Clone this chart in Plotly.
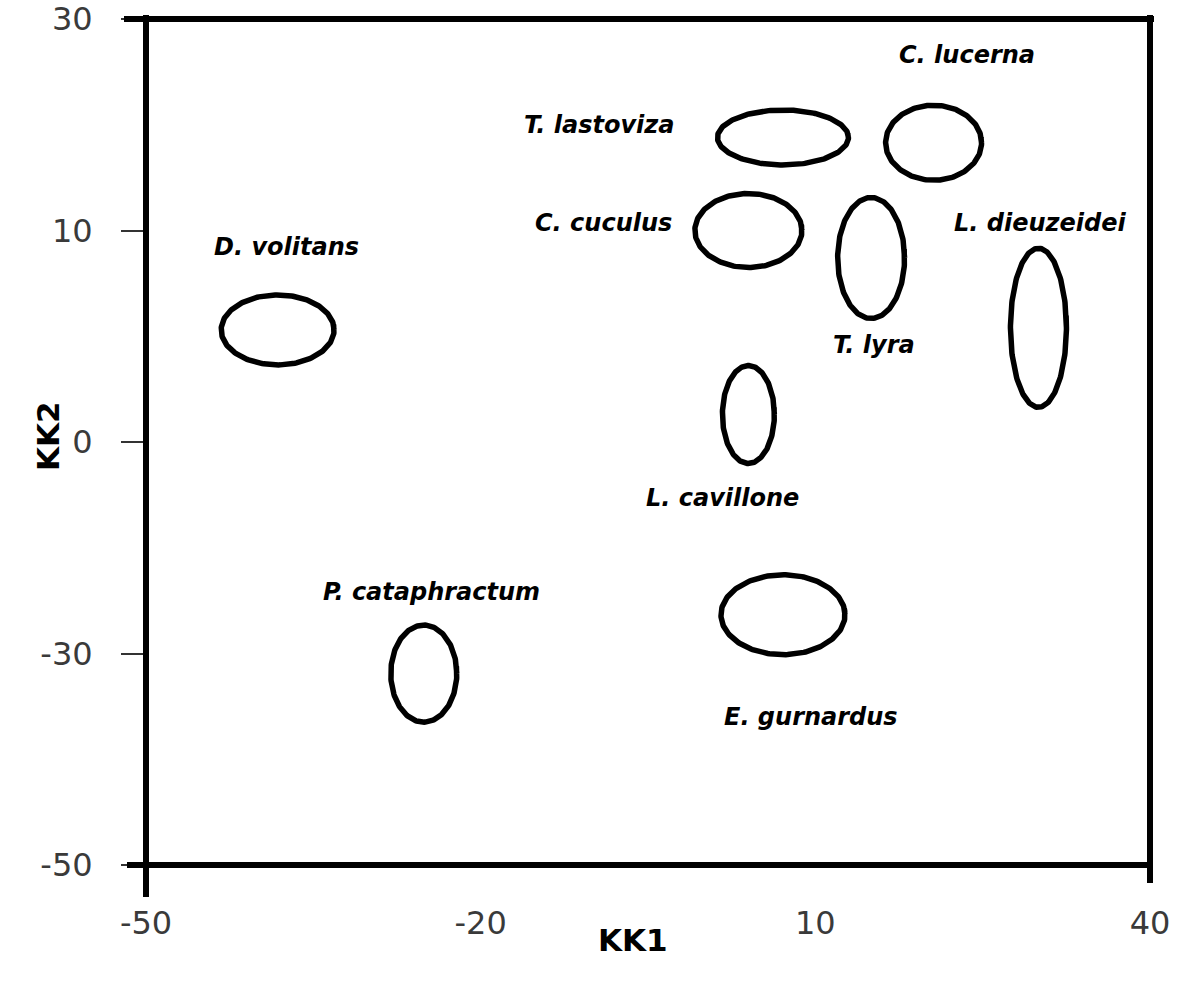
import numpy as np
import plotly.graph_objects as go

# Species group ellipses in canonical space (KK1 vs KK2)
species = ["D. volitans", "P. cataphractum", "T. lastoviza", "C. lucerna",
           "C. cuculus", "T. lyra", "L. dieuzeidei", "L. cavillone", "E. gurnardus"]
center_kk1 = [-38.2, -25.1, 7.1, 20.6, 4.0, 15.0, 30.0, 4.0, 7.1]
center_kk2 = [5.3, -31.9, 18.8, 18.3, 10.0, 8.7, 5.4, 1.3, -24.5]
# semi-axes: KK1 units horizontally, axis-position units vertically
half_width = [5.06, 2.96, 5.87, 4.30, 4.80, 3.00, 2.51, 2.33, 5.56]
half_height = [3.31, 4.59, 2.60, 3.55, 3.50, 5.72, 7.52, 4.63, 3.78]

# label anchor points for each species name
label_kk1 = [-37.4, -24.4, -9.4, 23.6, -9.0, 15.3, 30.1, 1.7, 9.6]
label_kk2 = [9.2, -21.3, 20.0, 26.6, 10.7, 4.6, 10.7, -7.95, -36.0]

# KK1 axis
x_ticks = [-50, -20, 10, 40]
# KK2 axis uses equally spaced tick positions for uneven tick values
y_tick_vals = [-50, -30, 0, 10, 30]
y_tick_pos = [-50, -30, -10, 10, 30]


def kk2_to_pos(v):
    return np.interp(v, y_tick_vals, y_tick_pos)


W, H = 1181, 981
L, R, T, B = 146, 31, 19, 116
pw, ph = W - L - R, H - T - B

fig = go.Figure()

# run slightly past a full turn so the outline closes without a seam
theta = np.linspace(0, 2 * np.pi + 0.15, 220)
for name, cx, cy, rx, ry in zip(species, center_kk1, center_kk2, half_width, half_height):
    cyp = kk2_to_pos(cy)
    fig.add_trace(go.Scatter(
        x=cx + rx * np.cos(theta),
        y=cyp + ry * np.sin(theta),
        mode="lines",
        line=dict(color="black", width=5.5),
        name=name,
        showlegend=False,
        hoverinfo="name",
    ))

for name, lx, ly in zip(species, label_kk1, label_kk2):
    fig.add_annotation(
        x=lx, y=float(kk2_to_pos(ly)), xref="x", yref="y",
        text=name, showarrow=False,
        font=dict(family="DejaVu Sans", size=24, color="black",
                  weight="bold", style="italic"),
    )


def px_x(p):
    return (p - L) / pw


def px_y(p):
    return (H - B - p) / ph


# frame lines (with extensions acting as end ticks)
frame = [
    (px_x(124), 1.0, px_x(1154), 1.0),
    (0.0, px_y(15), 0.0, px_y(897)),
    (px_x(127), 0.0, 1.0, 0.0),
    (1.0, px_y(15), 1.0, px_y(883)),
]
for x0, y0, x1, y1 in frame:
    fig.add_shape(type="line", xref="paper", yref="paper",
                  x0=x0, y0=y0, x1=x1, y1=y1,
                  line=dict(color="black", width=6))

fig.add_annotation(text="KK1", xref="paper", yref="paper",
                   x=px_x(633), y=px_y(960), showarrow=False,
                   font=dict(family="DejaVu Sans", size=31, color="black", weight="bold"))
fig.add_annotation(text="KK2", xref="paper", yref="paper",
                   x=px_x(28), y=px_y(436), showarrow=False, textangle=-90,
                   font=dict(family="DejaVu Sans", size=31, color="black", weight="bold"))

tick_font = dict(family="DejaVu Sans", size=32, color="#3a3a3a")
fig.update_xaxes(
    range=[-50, 40], tickvals=x_ticks, ticktext=[str(v) for v in x_ticks],
    showgrid=False, zeroline=False, showline=False, automargin=False,
    ticks="", ticklabelstandoff=36, tickfont=tick_font,
)
fig.update_yaxes(
    range=[-50, 30], tickvals=y_tick_pos, ticktext=[str(v) for v in y_tick_vals],
    showgrid=False, zeroline=False, showline=False, automargin=False,
    ticks="outside", ticklen=24, tickwidth=2, tickcolor="#333333",
    ticklabelstandoff=22, tickfont=tick_font,
)
fig.update_layout(
    width=W, height=H,
    margin=dict(l=L, r=R, t=T, b=B, autoexpand=False),
    paper_bgcolor="white", plot_bgcolor="white",
    showlegend=False,
)

fig.write_html("out.html")
